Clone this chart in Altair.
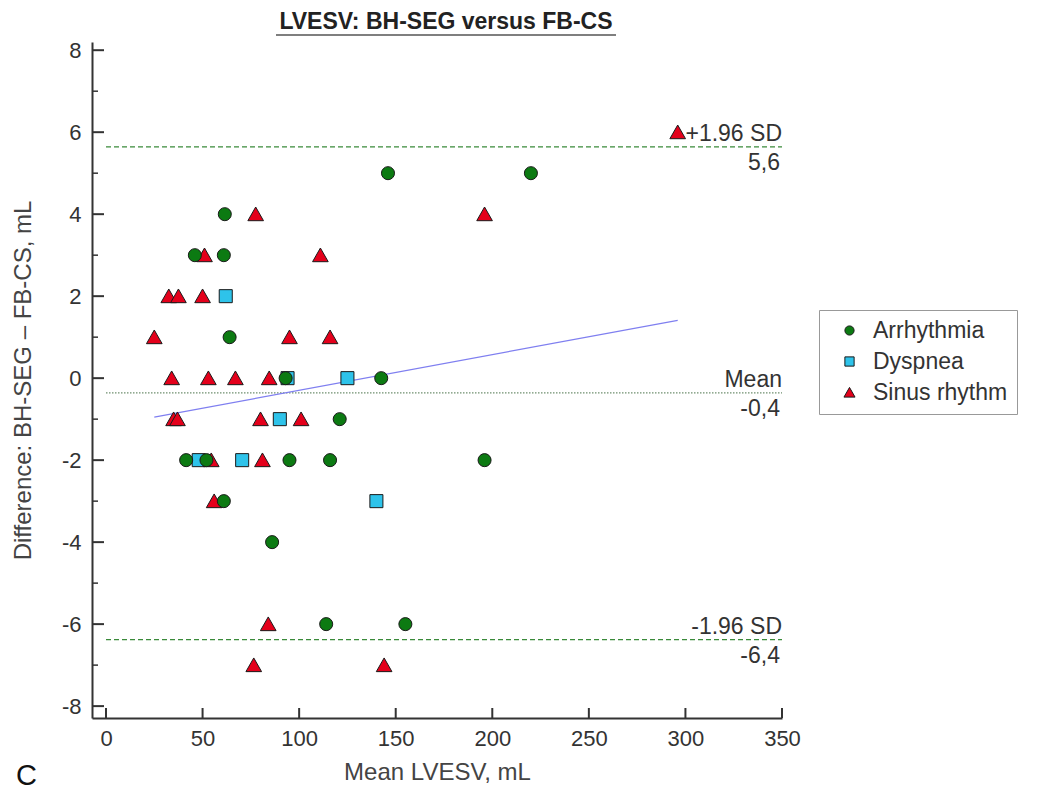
import altair as alt
import pandas as pd

# ---- data ----
arr_x = [146, 220, 61.5, 46, 61, 64, 93, 142.5, 121, 41.5, 52, 95, 116, 196, 61, 86, 114, 155]
arr_y = [5, 5, 4, 3, 3, 1, 0, 0, -1, -2, -2, -2, -2, -2, -3, -4, -6, -6]

dys_x = [62, 94, 125, 90, 48, 70.5, 140]
dys_y = [2, 0, 0, -1, -2, -2, -3]

sin_x = [296, 77.5, 196, 51, 111, 32.5, 37.5, 50, 25, 95, 116, 34, 53, 67, 84.5, 35, 37, 80, 101, 54.5, 81, 56, 84, 76.5, 144]
sin_y = [6, 4, 4, 3, 3, 2, 2, 2, 1, 1, 1, 0, 0, 0, 0, -1, -1, -1, -1, -2, -2, -3, -6, -7, -7]

groups = ["Arrhythmia", "Dyspnea", "Sinus rhythm"]
group_fill = ["#0c7a12", "#2ec3ea", "#e4001b"]
group_shape = ["circle", "square", "M0,-1.1L1.2,1L-1.2,1Z"]

reg_x = [25, 296]
reg_y = [-0.95, 1.41]

ref_y = [5.64, -0.36, -6.38]
ref_top = ["+1.96 SD", "Mean", "-1.96 SD"]
ref_bottom = ["5,6", "-0,4", "-6,4"]
ref_kind = ["sd", "mean", "sd"]

title_text = ["LVESV: BH-SEG versus FB-CS"]
panel_text = ["C"]

x_ticks = [0, 50, 100, 150, 200, 250, 300, 350]
y_major = [-8, -6, -4, -2, 0, 2, 4, 6, 8]
y_minor = [-7, -5, -3, -1, 1, 3, 5, 7]

X_DOMAIN = [-7.25, 350]
Y_DOMAIN = [-8.29, 8.2]
W, H = 690, 676
FONT = "Liberation Sans"

rows = []
for gx, gy, g in [(dys_x, dys_y, "Dyspnea"), (sin_x, sin_y, "Sinus rhythm"), (arr_x, arr_y, "Arrhythmia")]:
    for a, b in zip(gx, gy):
        rows.append({"x": a, "y": b, "group": g})
pts = pd.DataFrame(rows)

xs = alt.Scale(domain=X_DOMAIN, nice=False, zero=False)
ys = alt.Scale(domain=Y_DOMAIN, nice=False, zero=False)

x_axis = alt.Axis(values=x_ticks, ticks=False, grid=False, domain=True, domainColor="#333",
                  domainWidth=2, labelFontSize=22, labelColor="#333", labelFont=FONT,
                  labelPadding=10, labelFlush=False, title="Mean LVESV, mL", titleFontSize=24,
                  titleFontWeight="normal", titleColor="#444", titleFont=FONT, titlePadding=11,
                  labelExpr="toString(datum.value)")
y_axis = alt.Axis(values=y_major, ticks=False, grid=False, domain=True, domainColor="#333",
                  domainWidth=2, labelFontSize=22, labelColor="#333", labelFont=FONT,
                  labelPadding=11, labelFlush=False, title="Difference: BH-SEG \u2013 FB-CS, mL",
                  titleFontSize=24, titleFontWeight="normal", titleColor="#444", titleFont=FONT,
                  titlePadding=26, labelExpr="toString(datum.value)")

leg = alt.Legend(title=None, orient="none", legendX=727, legendY=268,
                 strokeColor="#999", padding=9, labelFontSize=23,
                 labelFont=FONT, labelColor="#333", symbolSize=85,
                 symbolStrokeColor="#1a1a1a", symbolStrokeWidth=1, symbolOffset=10,
                 rowPadding=7, labelOffset=12, fillColor="white")

base_pts = alt.Chart(pts).mark_point(filled=True, stroke="#1a1a1a", strokeWidth=1, opacity=1, size=170).encode(
    x=alt.X("x:Q", scale=xs, axis=x_axis),
    y=alt.Y("y:Q", scale=ys, axis=y_axis),
    color=alt.Color("group:N", scale=alt.Scale(domain=groups, range=group_fill), legend=leg),
    shape=alt.Shape("group:N", scale=alt.Scale(domain=groups, range=group_shape), legend=leg),
)

ref_df = pd.DataFrame({"y": ref_y, "top": ref_top, "bottom": ref_bottom, "kind": ref_kind,
                       "x0": [0] * 3, "x1": [350] * 3})

sd_lines = alt.Chart(ref_df).transform_filter(alt.datum.kind == "sd").mark_rule(
    color="#3a8a3a", strokeWidth=1.2, strokeDash=[5, 3]).encode(
    x=alt.X("x0:Q", scale=xs), x2="x1:Q", y=alt.Y("y:Q", scale=ys))
mean_line = alt.Chart(ref_df).transform_filter(alt.datum.kind == "mean").mark_rule(
    color="#6f8f6f", strokeWidth=1.2, strokeDash=[1.5, 1.5]).encode(
    x=alt.X("x0:Q", scale=xs), x2="x1:Q", y=alt.Y("y:Q", scale=ys))

top_text = alt.Chart(ref_df).mark_text(align="right", baseline="alphabetic", dy=-6, dx=0,
                                       fontSize=23, font=FONT, color="#333").encode(
    x=alt.X("x1:Q", scale=xs), y=alt.Y("y:Q", scale=ys), text="top:N")
bot_text = alt.Chart(ref_df).mark_text(align="right", baseline="top", dy=5, dx=-2,
                                       fontSize=23, font=FONT, color="#333").encode(
    x=alt.X("x1:Q", scale=xs), y=alt.Y("y:Q", scale=ys), text="bottom:N")

reg_df = pd.DataFrame({"x": reg_x, "y": reg_y})
reg_line = alt.Chart(reg_df).mark_line(color="#7f7ff0", strokeWidth=1.2).encode(
    x=alt.X("x:Q", scale=xs), y=alt.Y("y:Q", scale=ys))

# inward ticks
xt = alt.Chart(pd.DataFrame({"x": x_ticks})).mark_rule(color="#333", strokeWidth=2).encode(
    x=alt.X("x:Q", scale=xs), y=alt.value(H), y2=alt.value(H - 10))
ytm = alt.Chart(pd.DataFrame({"y": y_major})).mark_rule(color="#333", strokeWidth=2).encode(
    y=alt.Y("y:Q", scale=ys), x=alt.value(0), x2=alt.value(12))
ytn = alt.Chart(pd.DataFrame({"y": y_minor})).mark_rule(color="#333", strokeWidth=1.5).encode(
    y=alt.Y("y:Q", scale=ys), x=alt.value(0), x2=alt.value(6))

# title (bold, underlined) and panel letter
title = alt.Chart(pd.DataFrame({"t": title_text})).mark_text(
    align="center", baseline="middle", fontSize=23, fontWeight="bold", font=FONT, color="#222").encode(
    x=alt.value(354), y=alt.value(-20), text="t:N")
underline = alt.Chart(pd.DataFrame({"a": [0]})).mark_rule(color="#555", strokeWidth=1.5).encode(
    x=alt.value(184), x2=alt.value(524), y=alt.value(-7))
panel = alt.Chart(pd.DataFrame({"t": panel_text})).mark_text(align="left", baseline="middle",
                                                            fontSize=29, font=FONT, color="#111").encode(
    x=alt.value(-76), y=alt.value(734), text="t:N")

chart = alt.layer(sd_lines, mean_line, reg_line, xt, ytm, ytn, base_pts, top_text, bot_text,
                  title, underline, panel).properties(
    width=W, height=H,
    padding={"left": 3, "top": 3, "right": 5, "bottom": 0},
).configure_view(stroke=None)

chart.save("out.html", embed_options={"renderer": "svg", "actions": False})
